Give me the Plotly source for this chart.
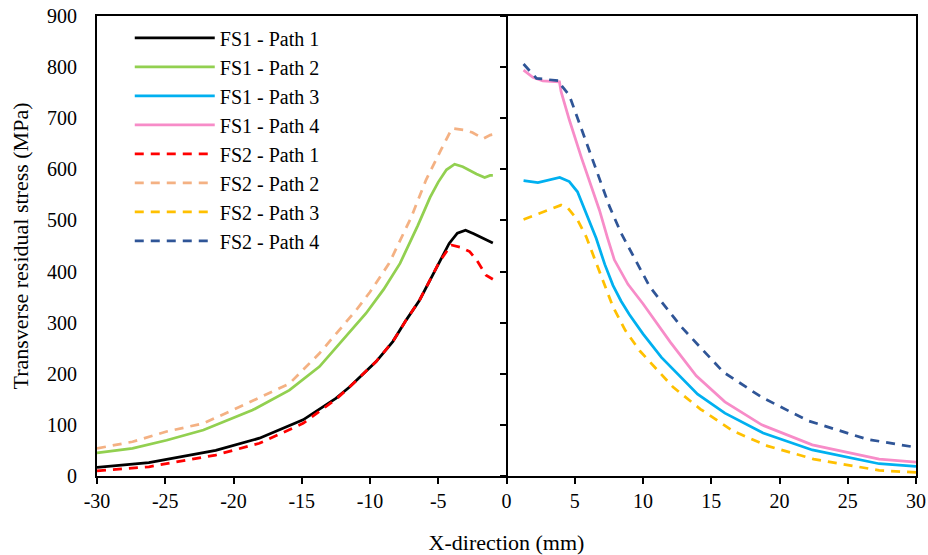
import plotly.graph_objects as go

# ---- data ----
fs1_p1_x = [-30, -26.2, -21.3, -18.1, -14.9, -12.5, -11.5, -9.55, -8.33, -7.35, -6.37, -4.9, -4.2, -3.6, -3.0, -2.4, -1.75, -1.0]
fs1_p1_y = [17, 26, 50, 74, 110, 152, 174, 224, 263, 305, 344, 419, 455, 475, 481, 474, 465, 456]

fs2_p1_x = [-30, -26.2, -21.3, -18.1, -14.9, -12.5, -11.5, -9.55, -8.33, -7.35, -6.37, -4.9, -4.05, -3.3, -2.7, -2.2, -1.5, -1.0]
fs2_p1_y = [10, 18, 41, 64, 103, 150, 174, 224, 263, 305, 344, 420, 452, 447, 439, 423, 393, 385]

fs1_p2_x = [-30, -27.4, -24.9, -22.2, -18.6, -15.9, -13.7, -10.3, -9.0, -7.8, -6.5, -5.6, -5.0, -4.4, -3.8, -3.2, -2.2, -1.6, -1.2, -1.0]
fs1_p2_y = [45, 54, 70, 90, 129, 168, 214, 318, 365, 416, 490, 545, 575, 599, 610, 605, 591, 584, 588, 588]

fs2_p2_x = [-30, -27.4, -24.9, -22.2, -18.6, -15.9, -13.7, -11.0, -10.0, -8.6, -7.0, -5.9, -4.8, -4.0, -3.1, -2.5, -1.7, -1.2, -1.0]
fs2_p2_y = [54, 67, 87, 103, 147, 181, 240, 325, 360, 416, 505, 579, 638, 680, 677, 672, 660, 667, 668]

fs1_p3_x = [1.25, 2.3, 3.9, 4.6, 5.2, 6.57, 7.2, 7.8, 8.4, 9.0, 10.0, 11.35, 14.0, 16.0, 18.8, 22.4, 27.3, 30]
fs1_p3_y = [578, 574, 584, 576, 556, 465, 414, 373, 342, 316, 278, 232, 160, 123, 84, 51, 24, 19]

fs1_p4_x = [1.25, 1.93, 2.66, 3.88, 4.0, 4.6, 5.5, 6.81, 7.4, 7.9, 8.9, 10.0, 12.0, 13.9, 16.0, 18.7, 22.4, 27.3, 30]
fs1_p4_y = [794, 780, 773, 771, 752, 697, 622, 520, 466, 423, 375, 337, 262, 196, 145, 100, 61, 33, 27]

fs2_p3_x = [1.25, 2.4, 4.0, 4.5, 5.2, 5.84, 6.81, 7.8, 8.7, 9.76, 12.2, 14.2, 16.6, 19.1, 22.5, 27.3, 30]
fs2_p3_y = [502, 514, 530, 524, 501, 468, 399, 331, 285, 245, 174, 131, 88, 59, 33, 11, 7]

fs2_p4_x = [1.25, 2.2, 3.9, 4.0, 4.6, 6.0, 7.55, 8.4, 10.5, 12.8, 15.9, 18.7, 22.1, 26.4, 30]
fs2_p4_y = [806, 778, 773, 765, 745, 640, 527, 475, 370, 292, 203, 154, 108, 72, 56]

names = ["FS1 - Path 1", "FS1 - Path 2", "FS1 - Path 3", "FS1 - Path 4",
         "FS2 - Path 1", "FS2 - Path 2", "FS2 - Path 3", "FS2 - Path 4"]

x_ticks = [-30, -25, -20, -15, -10, -5, 0, 5, 10, 15, 20, 25, 30]
y_ticks = [0, 100, 200, 300, 400, 500, 600, 700, 800, 900]

FONT = "Liberation Serif, Times New Roman, serif"
DASH = "9px,7px"

series = [
    (fs1_p1_x, fs1_p1_y, "#000000", "solid", "y"),
    (fs1_p2_x, fs1_p2_y, "#92D050", "solid", "y"),
    (fs1_p3_x, fs1_p3_y, "#00B0F0", "solid", "y2"),
    (fs1_p4_x, fs1_p4_y, "#F78CC8", "solid", "y2"),
    (fs2_p1_x, fs2_p1_y, "#FF0000", DASH, "y"),
    (fs2_p2_x, fs2_p2_y, "#F4B183", DASH, "y"),
    (fs2_p3_x, fs2_p3_y, "#FFC000", DASH, "y2"),
    (fs2_p4_x, fs2_p4_y, "#2F5597", DASH, "y2"),
]

fig = go.Figure()
for (xs, ys, col, dash, yax), nm in zip(series, names):
    fig.add_trace(go.Scatter(
        x=xs, y=ys, mode="lines", name=nm, yaxis=yax,
        legendgroup=nm,
        line=dict(color=col, width=2.75, dash=dash),
    ))

fig.update_layout(
    width=928, height=555,
    margin=dict(l=97, r=12, t=16, b=79, autoexpand=False),
    paper_bgcolor="white", plot_bgcolor="white",
    font=dict(family=FONT, size=20, color="black"),
    showlegend=True,
    legend=dict(
        x=0.04, y=0.995, xanchor="left", yanchor="top",
        bgcolor="rgba(0,0,0,0)", borderwidth=0,
        font=dict(family=FONT, size=20, color="black"),
        itemwidth=80, tracegroupgap=0,
    ),
    xaxis=dict(
        range=[-30, 30], tickmode="array", tickvals=x_ticks,
        ticktext=[str(v) for v in x_ticks],
        showgrid=False, zeroline=False, automargin=False,
        showline=True, linecolor="black", linewidth=2, mirror=True,
        ticks="outside", ticklen=6, tickwidth=1.5, tickcolor="black",
        tickfont=dict(family=FONT, size=20),
        title=dict(text="X-direction (mm)", font=dict(family=FONT, size=22), standoff=24),
    ),
    yaxis=dict(
        range=[0, 900], tickmode="array", tickvals=y_ticks,
        showgrid=False, zeroline=False, automargin=False,
        showline=True, linecolor="black", linewidth=2, mirror=True,
        ticks="", ticklabelstandoff=14,
        tickfont=dict(family=FONT, size=20),
        title=dict(text="Transverse residual stress (MPa)", font=dict(family=FONT, size=22), standoff=12),
    ),
    yaxis2=dict(
        range=[0, 900], tickmode="array", tickvals=y_ticks,
        overlaying="y", anchor="free", position=0.5, side="left",
        showgrid=False, zeroline=False, automargin=False,
        showline=True, linecolor="black", linewidth=2,
        ticks="outside", ticklen=6, tickwidth=1.5, tickcolor="black",
        showticklabels=False,
    ),
)

fig.write_html("out.html")
